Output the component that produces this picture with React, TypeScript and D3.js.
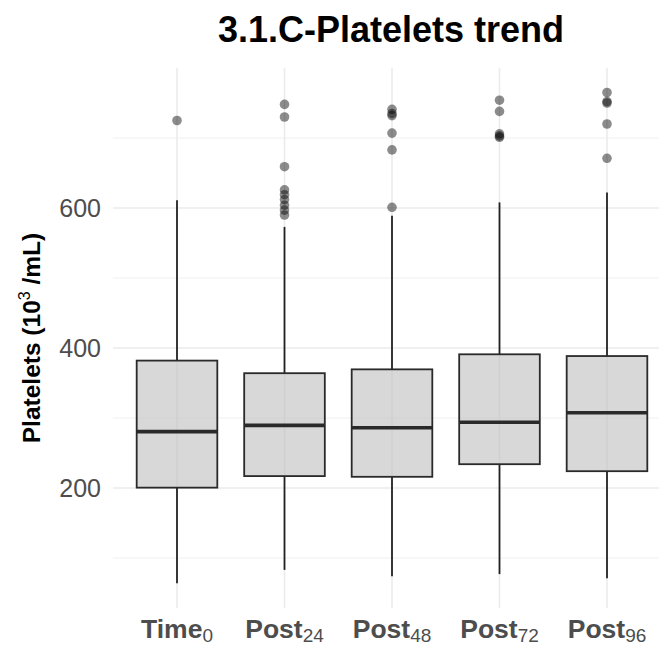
import * as d3 from "d3";

// box stats (10^3/mL)
const categories = ["Time", "Post", "Post", "Post", "Post"];
const subscripts = ["0", "24", "48", "72", "96"];
const whiskerLow = [64, 83, 74, 77, 71];
const q1 = [200.5, 217, 216, 234, 224];
const medians = [280.5, 289.5, 286, 294, 307.5];
const q3 = [382, 364, 369.5, 391, 388.5];
const whiskerHigh = [611, 573, 589, 608, 622];
const outliers = [
  [725],
  [748, 730, 659, 626, 619, 612, 604, 597, 590],
  [741, 735, 732, 707, 683, 601],
  [754, 738, 706, 703, 701],
  [765, 752, 750, 720, 671],
];
const majorTicks = [200, 400, 600];
const minorTicks = [100, 300, 500, 700];

const W = 659;
const H = 646;
const panel = { left: 113, right: 659, top: 68, bottom: 608 };

export default function App() {
  const keys = categories.map((c, i) => c + subscripts[i]);
  const x = d3.scalePoint<string>().domain(keys).range([177, 607]);
  const step = x.step();
  const boxW = step * 0.75;
  const y = d3.scaleLinear().domain([0, 800]).range([628, 68]);

  return (
    <svg
      width={W}
      height={H}
      style={{ position: "absolute", left: 0, top: 0, fontFamily: "Liberation Sans, Arial, sans-serif" }}
    >
      <rect width={W} height={H} fill="#fff" />

      {/* grid */}
      {minorTicks.map((t) => (
        <line key={"mi" + t} x1={panel.left} x2={panel.right} y1={y(t)} y2={y(t)} stroke="#f0f0f0" strokeWidth={1} />
      ))}
      {majorTicks.map((t) => (
        <line key={"ma" + t} x1={panel.left} x2={panel.right} y1={y(t)} y2={y(t)} stroke="#ebebeb" strokeWidth={1.6} />
      ))}
      {keys.map((k) => (
        <line key={"v" + k} x1={x(k)} x2={x(k)} y1={panel.top} y2={panel.bottom} stroke="#ebebeb" strokeWidth={1.6} />
      ))}

      {/* boxes */}
      {keys.map((k, i) => {
        const cx = x(k)!;
        return (
          <g key={"b" + k}>
            <line x1={cx} x2={cx} y1={y(q3[i])} y2={y(whiskerHigh[i])} stroke="#222" strokeWidth={1.8} />
            <line x1={cx} x2={cx} y1={y(q1[i])} y2={y(whiskerLow[i])} stroke="#222" strokeWidth={1.8} />
            <rect
              x={cx - boxW / 2}
              y={y(q3[i])}
              width={boxW}
              height={y(q1[i]) - y(q3[i])}
              fill="#bebebe"
              fillOpacity={0.6}
              stroke="#2a2a2a"
              strokeWidth={1.8}
            />
            <line x1={cx - boxW / 2} x2={cx + boxW / 2} y1={y(medians[i])} y2={y(medians[i])} stroke="#2a2a2a" strokeWidth={3.6} />
            {outliers[i].map((v, j) => (
              <circle key={j} cx={cx} cy={y(v)} r={4.8} fill="#000" fillOpacity={0.45} />
            ))}
          </g>
        );
      })}

      {/* y tick labels */}
      {majorTicks.map((t) => (
        <text key={"yt" + t} x={101} y={y(t)} dy="0.36em" textAnchor="end" fontSize={25} fill="#4d4d4d">
          {t}
        </text>
      ))}

      {/* x labels */}
      {keys.map((k, i) => (
        <text key={"xl" + k} x={x(k)} y={638} textAnchor="middle" fill="#4d4d4d" fontSize={26.5} fontWeight="bold">
          {categories[i]}
          <tspan fontSize={19} fontWeight="normal" dy={4}>
            {subscripts[i]}
          </tspan>
        </text>
      ))}

      {/* y axis title */}
      <text transform={`translate(40,${(panel.top + panel.bottom) / 2}) rotate(-90)`} textAnchor="middle" fontSize={24.5} fontWeight="bold" fill="#000">
        Platelets (10
        <tspan fontSize={16} dy={-10} fontWeight="normal">3</tspan>
        <tspan dy={10}> /mL)</tspan>
      </text>

      {/* title */}
      <text x={391} y={42} textAnchor="middle" fontSize={36} fontWeight="bold" fill="#000">
        3.1.C-Platelets trend
      </text>
    </svg>
  );
}
